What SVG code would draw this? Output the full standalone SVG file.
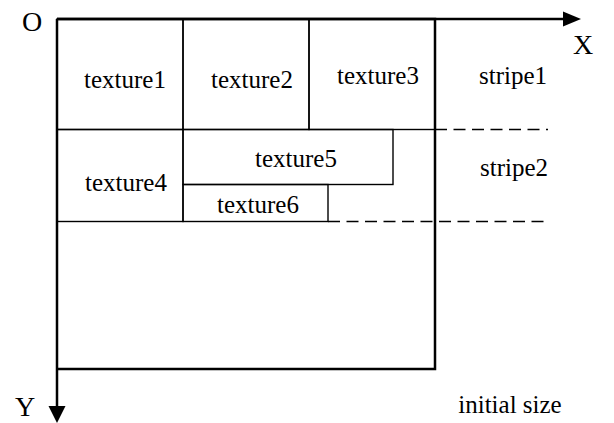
<svg xmlns="http://www.w3.org/2000/svg" width="614" height="423" viewBox="0 0 614 423">
  <style>
    .axis { stroke: #000; stroke-width: 2.5; fill: none; }
    .frame { stroke: #000; stroke-width: 2.5; fill: none; }
    .cell { stroke: #000; stroke-width: 1.4; fill: none; }
    .dash { stroke: #000; stroke-width: 1.4; stroke-dasharray: 12 6.5; fill: none; }
    text { font-family: 'Liberation Serif', 'Times New Roman', 'DejaVu Serif', Times, serif; fill: #000; }
    .lbl { font-size: 25px; text-anchor: middle; }
    .ax { font-size: 28px; }
  </style>
  <rect width="614" height="423" fill="#fff"/>

  <!-- initial size frame -->
  <g id="frame">
    <polyline class="frame" points="57,19 435,19 435,369 57,369"/>
  </g>

  <!-- texture cells -->
  <g id="texture1">
    <rect class="cell" x="57" y="19" width="126" height="110.5"/>
    <text class="lbl" x="125" y="88">texture1</text>
  </g>
  <g id="texture2">
    <rect class="cell" x="183" y="19" width="126" height="110.5"/>
    <text class="lbl" x="252" y="88">texture2</text>
  </g>
  <g id="texture3">
    <rect class="cell" x="309" y="19" width="126" height="110.5"/>
    <text class="lbl" x="378" y="84">texture3</text>
  </g>
  <g id="texture4">
    <rect class="cell" x="57" y="129.5" width="126" height="92"/>
    <text class="lbl" x="126" y="191">texture4</text>
  </g>
  <g id="texture5">
    <rect class="cell" x="183" y="129.5" width="210" height="55"/>
    <text class="lbl" x="296" y="167">texture5</text>
  </g>
  <g id="texture6">
    <rect class="cell" x="183" y="184.5" width="145" height="37"/>
    <text class="lbl" x="258" y="213">texture6</text>
  </g>

  <!-- stripes -->
  <g id="stripe1">
    <text class="lbl" x="513" y="84">stripe1</text>
  </g>
  <g id="stripe2">
    <text class="lbl" x="514" y="176">stripe2</text>
  </g>

  <!-- connectors: axes and stripe boundaries -->
  <g id="connectors">
    <line class="dash" x1="435" y1="129.5" x2="548" y2="129.5"/>
    <line class="dash" x1="328" y1="221.5" x2="548" y2="221.5"/>
    <line class="axis" x1="57" y1="19" x2="566" y2="19"/>
    <polygon points="581,19 563,11.5 563,26.5" fill="#000"/>
    <line class="axis" x1="57" y1="19" x2="57" y2="408"/>
    <polygon points="57,423 48.5,406 65.5,406" fill="#000"/>
  </g>

  <g id="labels">
    <text class="ax" x="22" y="31">O</text>
    <text class="ax" x="573" y="54">X</text>
    <text class="ax" x="15" y="416">Y</text>
    <text class="lbl" x="510" y="413">initial size</text>
  </g>
</svg>
